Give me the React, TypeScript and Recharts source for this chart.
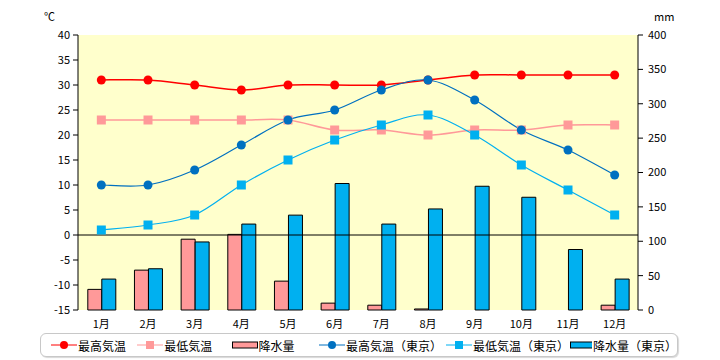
import React from 'react';
import {
  Bar,
  CartesianGrid,
  ComposedChart,
  Legend,
  Line,
  ReferenceLine,
  XAxis,
  YAxis,
} from 'recharts';

const months = ['1月', '2月', '3月', '4月', '5月', '6月', '7月', '8月', '9月', '10月', '11月', '12月'];
const maxTemp = [31, 31, 30, 29, 30, 30, 30, 31, 32, 32, 32, 32];
const minTemp = [23, 23, 23, 23, 23, 21, 21, 20, 21, 21, 22, 22];
const rain = [30, 58, 103, 110, 42, 10, 7, 1.5, 0, 0, 0, 7];
const tokyoMax = [10, 10, 13, 18, 23, 25, 29, 31, 27, 21, 17, 12];
const tokyoMin = [1, 2, 4, 10, 15, 19, 22, 24, 20, 14, 9, 4];
const tokyoRain = [45, 60, 99, 125, 138, 184, 125, 147, 180, 164, 88, 45];

const tempTicks = [-15, -10, -5, 0, 5, 10, 15, 20, 25, 30, 35, 40];
const rainTicks = [0, 50, 100, 150, 200, 250, 300, 350, 400];

const data = months.map((m, i) => ({
  month: m,
  maxTemp: maxTemp[i],
  minTemp: minTemp[i],
  rain: rain[i],
  tokyoMax: tokyoMax[i],
  tokyoMin: tokyoMin[i],
  tokyoRain: tokyoRain[i],
}));

const FONT = '"Noto Sans CJK JP", "Noto Sans", sans-serif';

// Excel-ish smoothed line (Catmull-Rom style bezier)
function smoothCurve(context: any) {
  let pts: number[][] = [];
  return {
    areaStart() {},
    areaEnd() {},
    lineStart() {
      pts = [];
    },
    point(x: number, y: number) {
      pts.push([+x, +y]);
    },
    lineEnd() {
      if (!pts.length) return;
      context.moveTo(pts[0][0], pts[0][1]);
      for (let i = 0; i < pts.length - 1; i++) {
        const p0 = pts[i - 1] || pts[i];
        const p1 = pts[i];
        const p2 = pts[i + 1];
        const p3 = pts[i + 2] || p2;
        context.bezierCurveTo(
          p1[0] + (p2[0] - p0[0]) / 6,
          p1[1] + (p2[1] - p0[1]) / 6,
          p2[0] - (p3[0] - p1[0]) / 6,
          p2[1] - (p3[1] - p1[1]) / 6,
          p2[0],
          p2[1],
        );
      }
    },
  };
}

const SquareDot = (color: string) => (props: any) => {
  const { cx, cy, index } = props;
  if (cx == null || cy == null) return <g key={index} />;
  return <rect key={index} x={cx - 4.5} y={cy - 4.5} width={9} height={9} fill={color} />;
};

const legendItems = [
  { label: '最高気温', color: '#ff0000', kind: 'circle', width: 87 },
  { label: '最低気温', color: '#ff9999', kind: 'square', width: 95 },
  { label: '降水量', color: '#ff9999', kind: 'bar', width: 88 },
  { label: '最高気温（東京）', color: '#0070c0', kind: 'circle', width: 128 },
  { label: '最低気温（東京）', color: '#00b0f0', kind: 'square', width: 125 },
  { label: '降水量（東京）', color: '#00b0f0', kind: 'bar', width: 107 },
];

function LegendBox() {
  return (
    <div
      style={{
        position: 'absolute',
        left: 40,
        top: 333,
        width: 638,
        height: 24,
        border: '1px solid #c8c8c8',
        borderRadius: 6,
        boxShadow: '1px 1px 1px #d8d8d8',
        display: 'flex',
        alignItems: 'center',
        paddingLeft: 10,
        boxSizing: 'border-box',
        fontFamily: FONT,
        fontSize: 12,
        color: '#000',
        background: '#fff',
      }}
    >
      {legendItems.map((it) => (
        <div key={it.label} style={{ display: 'flex', alignItems: 'center', width: it.width, whiteSpace: 'nowrap' }}>
          <svg width={26} height={12} style={{ marginRight: 1 }}>
            {it.kind === 'bar' ? (
              <rect x={0.5} y={3} width={25} height={6} fill={it.color} stroke="#000" strokeWidth={1} />
            ) : (
              <>
                <line x1={0} y1={6} x2={26} y2={6} stroke={it.color} strokeWidth={1} />
                {it.kind === 'circle' ? (
                  <circle cx={13} cy={6} r={4} fill={it.color} />
                ) : (
                  <rect x={9} y={2} width={8} height={8} fill={it.color} />
                )}
              </>
            )}
          </svg>
          <span>{it.label}</span>
        </div>
      ))}
    </div>
  );
}

export default function App() {
  const tick = { fill: '#000', fontSize: 11, fontFamily: FONT };
  return (
    <div style={{ position: 'absolute', left: 0, top: 0, width: 720, height: 360, background: '#fff' }}>
      <div style={{ position: 'absolute', left: 44, top: 8, fontSize: 11, fontFamily: FONT }}>℃</div>
      <div style={{ position: 'absolute', left: 654, top: 8, fontSize: 11, fontFamily: FONT }}>mm</div>
      <ComposedChart
        width={720}
        height={360}
        data={data}
        margin={{ top: 35, right: 0, bottom: 30, left: 0 }}
        barCategoryGap="21%"
        barGap={0}
      >
        <CartesianGrid horizontal={false} vertical={false} fill="#ffffcc" />
        <XAxis
          dataKey="month"
          axisLine={false}
          tickLine={false}
          tick={tick}
          height={20}
          tickMargin={4}
        />
        <YAxis
          yAxisId="left"
          domain={[-15, 40]}
          ticks={tempTicks}
          interval={0}
          width={78}
          tick={tick}
          axisLine={{ stroke: '#000' }}
          tickLine={{ stroke: '#000' }}
          tickSize={5}
          tickMargin={3}
        />
        <YAxis
          yAxisId="right"
          orientation="right"
          domain={[0, 400]}
          ticks={rainTicks}
          interval={0}
          width={82}
          tick={tick}
          axisLine={{ stroke: '#000' }}
          tickLine={{ stroke: '#000' }}
          tickSize={5}
          tickMargin={5}
        />
        <ReferenceLine yAxisId="left" y={0} stroke="#000" strokeWidth={1} />
        <Bar yAxisId="right" dataKey="rain" fill="#ff9999" stroke="#000" strokeWidth={1} isAnimationActive={false} />
        <Bar yAxisId="right" dataKey="tokyoRain" fill="#00b0f0" stroke="#000" strokeWidth={1} isAnimationActive={false} />
        <Line
          yAxisId="left"
          dataKey="maxTemp"
          type={smoothCurve as any}
          stroke="#ff0000"
          strokeWidth={1.5}
          dot={{ r: 4.5, fill: '#ff0000', stroke: 'none' }}
          isAnimationActive={false}
        />
        <Line
          yAxisId="left"
          dataKey="minTemp"
          type={smoothCurve as any}
          stroke="#ff9999"
          strokeWidth={1.5}
          dot={SquareDot('#ff9999')}
          isAnimationActive={false}
        />
        <Line
          yAxisId="left"
          dataKey="tokyoMax"
          type={smoothCurve as any}
          stroke="#0070c0"
          strokeWidth={1.2}
          dot={{ r: 4.5, fill: '#0070c0', stroke: 'none' }}
          isAnimationActive={false}
        />
        <Line
          yAxisId="left"
          dataKey="tokyoMin"
          type={smoothCurve as any}
          stroke="#00b0f0"
          strokeWidth={1.2}
          dot={SquareDot('#00b0f0')}
          isAnimationActive={false}
        />
        <Legend content={() => null} height={0} />
      </ComposedChart>
      <LegendBox />
    </div>
  );
}
